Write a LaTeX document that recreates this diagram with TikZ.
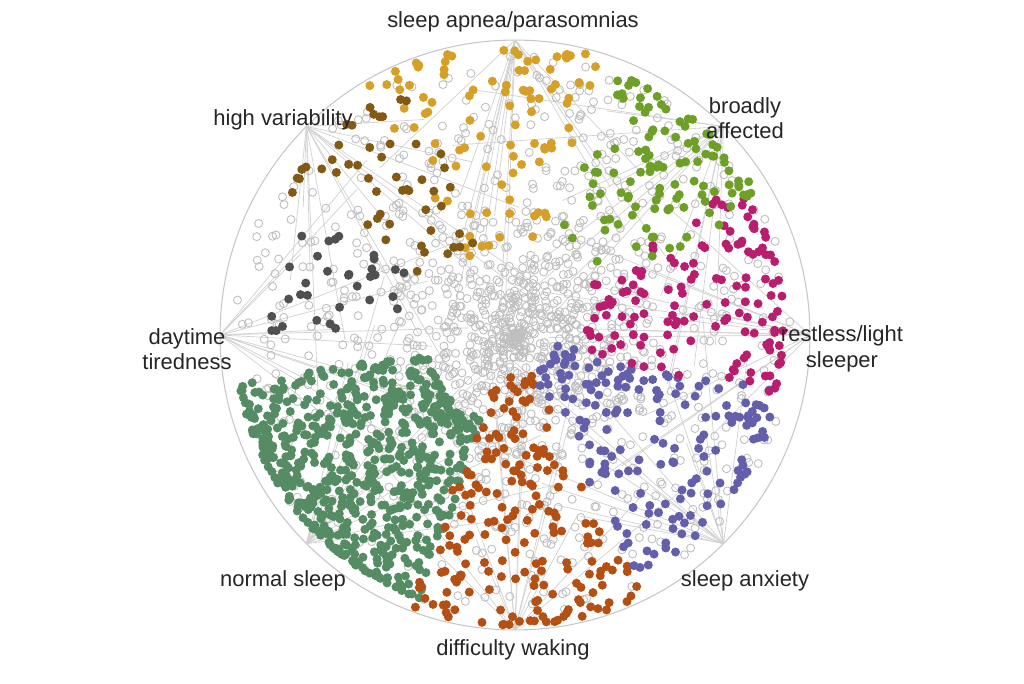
\documentclass[tikz,border=0pt]{standalone}
\usepackage{fontspec}
\setmainfont{Liberation Sans}
\definecolor{cApnea}{RGB}{214,160,40}
\definecolor{cBroad}{RGB}{110,160,40}
\definecolor{cRest}{RGB}{185,30,110}
\definecolor{cAnx}{RGB}{100,95,170}
\definecolor{cWake}{RGB}{180,80,20}
\definecolor{cNorm}{RGB}{85,140,100}
\definecolor{cDay}{RGB}{80,80,80}
\definecolor{cVar}{RGB}{130,90,20}
\newcommand\myclust[6]{%
  \foreach \k in {1,...,#6}{%
    \pgfmathsetmacro\aa{#2+#3*rand}%
    \pgfmathsetmacro\rr{#5-(#5-#4)*rnd^1.6}%
    \fill[#1] ([shift={(c)}]\aa:\rr cm) circle (0.09cm);
  }}
\begin{document}
\begin{tikzpicture}[x=0.02cm,y=-0.02cm,
  lbl/.style={font=\fontsize{12.5}{14.5}\selectfont, align=center, text=black!85},
  spoke/.style={draw=black!18, line width=0.4pt},
  gp/.style={draw=black!25, line width=0.5pt}]
\useasboundingbox[fill=white] (0,0) rectangle (1024,683);
\pgfmathsetseed{4242}
\coordinate (c) at (515,335);
\draw[black!22, line width=0.6pt] (c) circle [radius=5.9cm];
\foreach \i/\ang in {1/90,2/45,3/0,4/-45,5/-90,6/-135,7/180,8/135}{
  \coordinate (a\i) at ([shift={(c)}]\ang:5.9cm);
  \foreach \k in {1,...,14}{
    \pgfmathsetmacro\ra{\ang+70*rand}
    \pgfmathsetmacro\rr{0.5+4.5*rnd}
    \draw[spoke] (a\i) -- ([shift={(c)}]\ra:\rr cm);
  }
}
\foreach \k in {1,...,900}{
  \pgfmathsetmacro\ra{rnd*360}
  \pgfmathsetmacro\rr{5.6*rnd^0.75}
  \draw[gp] ([shift={(c)}]\ra:\rr cm) circle (0.08cm);
}
\foreach \k in {1,...,450}{
  \pgfmathsetmacro\ra{rnd*360}
  \pgfmathsetmacro\rr{2.6*rnd}
  \draw[gp] ([shift={(c)}]\ra:\rr cm) circle (0.08cm);
}
\myclust{cNorm}{-140}{30}{1.8}{5.6}{650}
\myclust{cWake}{-88}{24}{0.8}{5.8}{190}
\myclust{cAnx}{-38}{26}{0.8}{5.4}{170}
\myclust{cRest}{10}{24}{1.4}{5.4}{140}
\myclust{cBroad}{48}{20}{2}{5.6}{110}
\myclust{cApnea}{97}{24}{1.8}{5.8}{95}
\myclust{cVar}{130}{18}{2}{5.4}{50}
\myclust{cDay}{165}{15}{2}{4.9}{32}
\node[lbl] (l1) at (513,22) {sleep apnea/parasomnias};
\node[lbl] (l2) at (745,118) {broadly\\affected};
\node[lbl] (l3) at (842,349) {restless/light\\sleeper};
\node[lbl] (l4) at (745,581) {sleep anxiety};
\node[lbl] (l5) at (513,650) {difficulty waking};
\node[lbl] (l6) at (283,581) {normal sleep};
\node[lbl] (l7) at (187,349) {daytime\\tiredness};
\node[lbl] (l8) at (283,120) {high variability};
\end{tikzpicture}
\end{document}
